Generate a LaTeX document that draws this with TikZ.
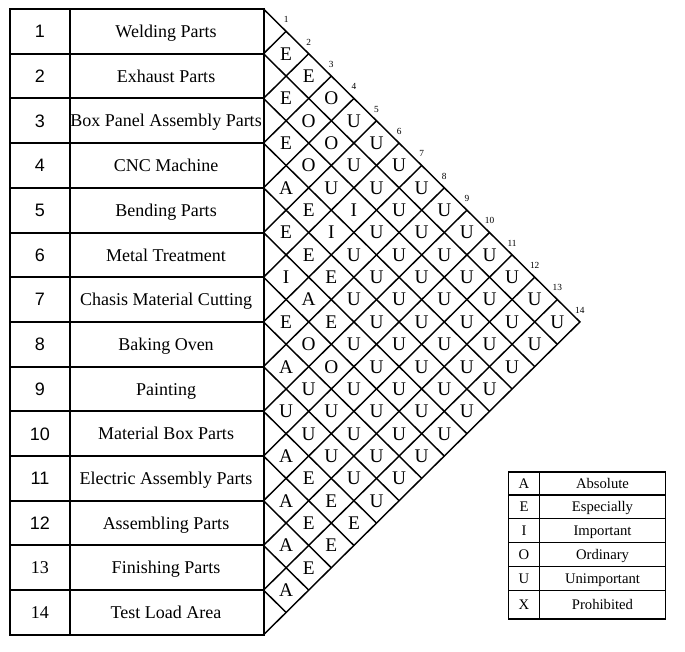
\documentclass[tikz,border=0pt]{standalone}
\usepackage{fontspec}
\setmainfont{Liberation Serif}
\newfontfamily\numfont{Liberation Sans}

\begin{document}
\begin{tikzpicture}[x=0.75pt,y=-0.75pt,
  numtxt/.style={anchor=base,font=\numfont\fontsize{13.5}{16}\selectfont},
  nametxt/.style={anchor=base,font=\fontsize{13.5}{16}\selectfont},
  reltxt/.style={anchor=base,inner sep=0pt,font=\fontsize{14.5}{17}\selectfont},
  idxtxt/.style={anchor=south,inner sep=0pt,font=\fontsize{7}{8}\selectfont},
  keytxt/.style={anchor=base,font=\fontsize{11}{13}\selectfont}]
\useasboundingbox (0,0) rectangle (685,651);

\draw[line width=1.5pt] (10,9) rectangle (263.5,634.8);
\draw[line width=1.5pt] (70.3,9) -- (70.3,634.8);
\foreach \k in {1,...,13}
  \draw[line width=1.5pt] (10,9+44.7*\k) -- (263.5,9+44.7*\k);

\foreach \i in {1,...,12}
  \node[numtxt] (num\i) at (40,9+44.7*\i-22.35+6.4) {\i};
\foreach \i in {13,14}
  \node[nametxt] (num\i) at (40,9+44.7*\i-22.35+6.2) {\i};
\foreach \dept [count=\i] in {Welding Parts,Exhaust Parts,Box Panel Assembly Parts,
    CNC Machine,Bending Parts,Metal Treatment,Chasis Material Cutting,Baking Oven,
    Painting,Material Box Parts,Electric Assembly Parts,Assembling Parts,
    Finishing Parts,Test Load Area}
  \node[nametxt] (dept\i) at (166,9+44.7*\i-22.35+6.2) {\dept};

\begin{scope}[shift={(263.5,9)},x=16.95pt,y=-16.7625pt,line width=1.1pt]
\draw (0,0) -- (14,14) -- (0,28);
\foreach \k in {1,...,13}{
  \draw (0,2*\k) -- (14-\k,14+\k);
  \draw (0,2*\k) -- (\k,\k);
}
\foreach \i in {1,...,14}
  \node[idxtxt,yshift=5.9pt] (top\i) at (\i,\i) {\i};
\foreach \row [count=\i] in {{E,E,O,U,U,U,U,U,U,U,U,U,U},{E,O,O,U,U,U,U,U,U,U,U,U},
    {E,O,U,I,U,U,U,U,U,U,U},{A,E,I,U,U,U,U,U,U,U},{E,E,E,U,U,U,U,U,U},
    {I,A,E,U,U,U,U,U},{E,O,O,U,U,U,U},{A,U,U,U,U,U},{U,U,U,U,U},
    {A,E,E,E},{A,E,E},{A,E},{A}}
  \foreach \c [count=\d] in \row {
    \pgfmathtruncatemacro\j{\i+\d}
    \node[reltxt,yshift=-4.8pt] (r\i-\j) at (\d,\i+\j-1) {\c};
  }
\end{scope}

\draw[line width=0.8pt] (508.5,472) rectangle (665.5,619);
\draw[line width=1.1pt] (539.5,472) -- (539.5,619);
\foreach \y in {495,518.5,542.5,566.5,590.5}
  \draw[line width=0.8pt] (508.5,\y) -- (665.5,\y);
\foreach \lett/\word/\yc in {A/Absolute/483.5,E/Especially/506.8,I/Important/530.5,
    O/Ordinary/554.5,U/Unimportant/578.5,X/Prohibited/604.8}{
  \node[keytxt] (key\lett) at (524,\yc+4.9) {\lett};
  \node[keytxt] (word\lett) at (602.5,\yc+4.9) {\word};
}
\end{tikzpicture}
\end{document}
